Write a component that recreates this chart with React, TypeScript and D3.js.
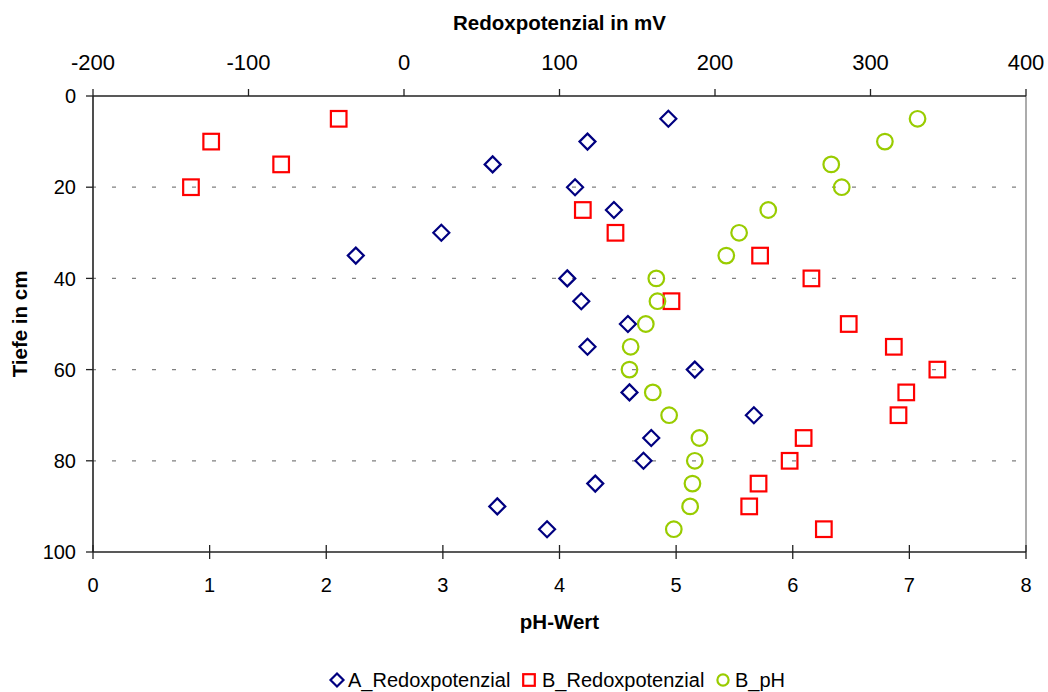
import * as d3 from 'd3';

// depth of each sample (cm)
const depths = [5, 10, 15, 20, 25, 30, 35, 40, 45, 50, 55, 60, 65, 70, 75, 80, 85, 90, 95];
// redox potential profile A (mV, top axis)
const aRedox = [170, 118, 57, 110, 135, 24, -31, 105, 114, 144, 118, 187, 145, 225, 159, 154, 123, 60, 92];
// redox potential profile B (mV, top axis)
const bRedox = [-42, -124, -79, -137, 115, 136, 229, 262, 172, 286, 315, 343, 323, 318, 257, 248, 228, 222, 270];
// pH profile B (bottom axis)
const bPH = [7.07, 6.79, 6.33, 6.42, 5.79, 5.54, 5.43, 4.83, 4.84, 4.74, 4.61, 4.6, 4.8, 4.94, 5.2, 5.16, 5.14, 5.12, 4.98];

const mvTicks = [-200, -100, 0, 100, 200, 300, 400];
const phTicks = [0, 1, 2, 3, 4, 5, 6, 7, 8];
const depthTicks = [0, 20, 40, 60, 80, 100];
const gridDepths = [20, 40, 60, 80];

const seriesNames = ['A_Redoxpotenzial', 'B_Redoxpotenzial', 'B_pH'];

const W = 1048;
const H = 692;
const plot = { left: 93, right: 1026, top: 96, bottom: 552 };
const FONT = '"Liberation Sans", Arial, sans-serif';

const NAVY = '#000080';
const RED = '#ff0000';
const GREEN = '#99cc00';

function Diamond({ x, y, r }: { x: number; y: number; r: number }) {
  return (
    <path
      d={`M${x},${y - r}L${x + r},${y}L${x},${y + r}L${x - r},${y}Z`}
      fill="none"
      stroke={NAVY}
      strokeWidth={2.2}
    />
  );
}

function Square({ x, y, r }: { x: number; y: number; r: number }) {
  return <rect x={x - r} y={y - r} width={2 * r} height={2 * r} fill="none" stroke={RED} strokeWidth={2.2} />;
}

function Ring({ x, y, r }: { x: number; y: number; r: number }) {
  return <circle cx={x} cy={y} r={r} fill="none" stroke={GREEN} strokeWidth={2.2} />;
}

export default function App() {
  const xPH = d3.scaleLinear().domain([0, 8]).range([plot.left, plot.right]);
  const xMV = d3.scaleLinear().domain([-200, 400]).range([plot.left, plot.right]);
  const y = d3.scaleLinear().domain([0, 100]).range([plot.top, plot.bottom]);

  const legendItems = [
    { name: seriesNames[0], mx: 337, tx: 348, Mark: Diamond, r: 6.5 },
    { name: seriesNames[1], mx: 529, tx: 542, Mark: Square, r: 5.8 },
    { name: seriesNames[2], mx: 723, tx: 735, Mark: Ring, r: 5.6 },
  ];

  return (
    <svg
      width={W}
      height={H}
      style={{ position: 'absolute', left: 0, top: 0, background: '#fff' }}
      fontFamily={FONT}
    >
      <rect x={0} y={0} width={W} height={H} fill="#fff" />

      {/* gridlines */}
      {gridDepths.map((d) => (
        <line
          key={'g' + d}
          x1={plot.left}
          x2={plot.right}
          y1={y(d)}
          y2={y(d)}
          stroke="#808080"
          strokeWidth={1.3}
          strokeDasharray="4 16"
          strokeDashoffset={1}
        />
      ))}

      {/* right border */}
      <line x1={plot.right} x2={plot.right} y1={plot.top} y2={plot.bottom} stroke="#909090" strokeWidth={1.5} />

      {/* top axis (mV) */}
      <line x1={plot.left} x2={plot.right} y1={plot.top} y2={plot.top} stroke="#222" strokeWidth={1.6} />
      {mvTicks.map((t) => (
        <g key={'mv' + t}>
          <line x1={xMV(t)} x2={xMV(t)} y1={plot.top - 7} y2={plot.top} stroke="#222" strokeWidth={1.3} />
          <text x={xMV(t)} y={70} textAnchor="middle" fontSize={22}>
            {t}
          </text>
        </g>
      ))}
      <text x={(plot.left + plot.right) / 2} y={30} textAnchor="middle" fontSize={20.5} fontWeight="bold">
        Redoxpotenzial in mV
      </text>

      {/* bottom axis (pH) */}
      <line x1={plot.left} x2={plot.right} y1={plot.bottom} y2={plot.bottom} stroke="#222" strokeWidth={1.6} />
      {phTicks.map((t) => (
        <g key={'ph' + t}>
          <line x1={xPH(t)} x2={xPH(t)} y1={plot.bottom - 7} y2={plot.bottom + 7} stroke="#222" strokeWidth={1.3} />
          <text x={xPH(t)} y={592} textAnchor="middle" fontSize={20}>
            {t}
          </text>
        </g>
      ))}
      <text x={(plot.left + plot.right) / 2} y={629} textAnchor="middle" fontSize={20.5} fontWeight="bold">
        pH-Wert
      </text>

      {/* left axis (depth) */}
      <line x1={plot.left} x2={plot.left} y1={plot.top} y2={plot.bottom} stroke="#222" strokeWidth={1.6} />
      {depthTicks.map((t) => (
        <g key={'d' + t}>
          <line x1={plot.left - 7} x2={plot.left} y1={y(t)} y2={y(t)} stroke="#222" strokeWidth={1.3} />
          <text x={76} y={y(t)} dy="0.36em" textAnchor="end" fontSize={20}>
            {t}
          </text>
        </g>
      ))}
      <text
        transform={`translate(27,${(plot.top + plot.bottom) / 2}) rotate(-90)`}
        textAnchor="middle"
        fontSize={20.5}
        fontWeight="bold"
      >
        Tiefe in cm
      </text>

      {/* series */}
      {depths.map((d, i) => (
        <Diamond key={'a' + i} x={xMV(aRedox[i])} y={y(d)} r={8} />
      ))}
      {depths.map((d, i) => (
        <Square key={'b' + i} x={xMV(bRedox[i])} y={y(d)} r={7.8} />
      ))}
      {depths.map((d, i) => (
        <Ring key={'c' + i} x={xPH(bPH[i])} y={y(d)} r={7.8} />
      ))}

      {/* legend */}
      {legendItems.map(({ name, mx, tx, Mark, r }) => (
        <g key={name}>
          <Mark x={mx} y={680} r={r} />
          <text x={tx} y={687} fontSize={20}>
            {name}
          </text>
        </g>
      ))}
    </svg>
  );
}
